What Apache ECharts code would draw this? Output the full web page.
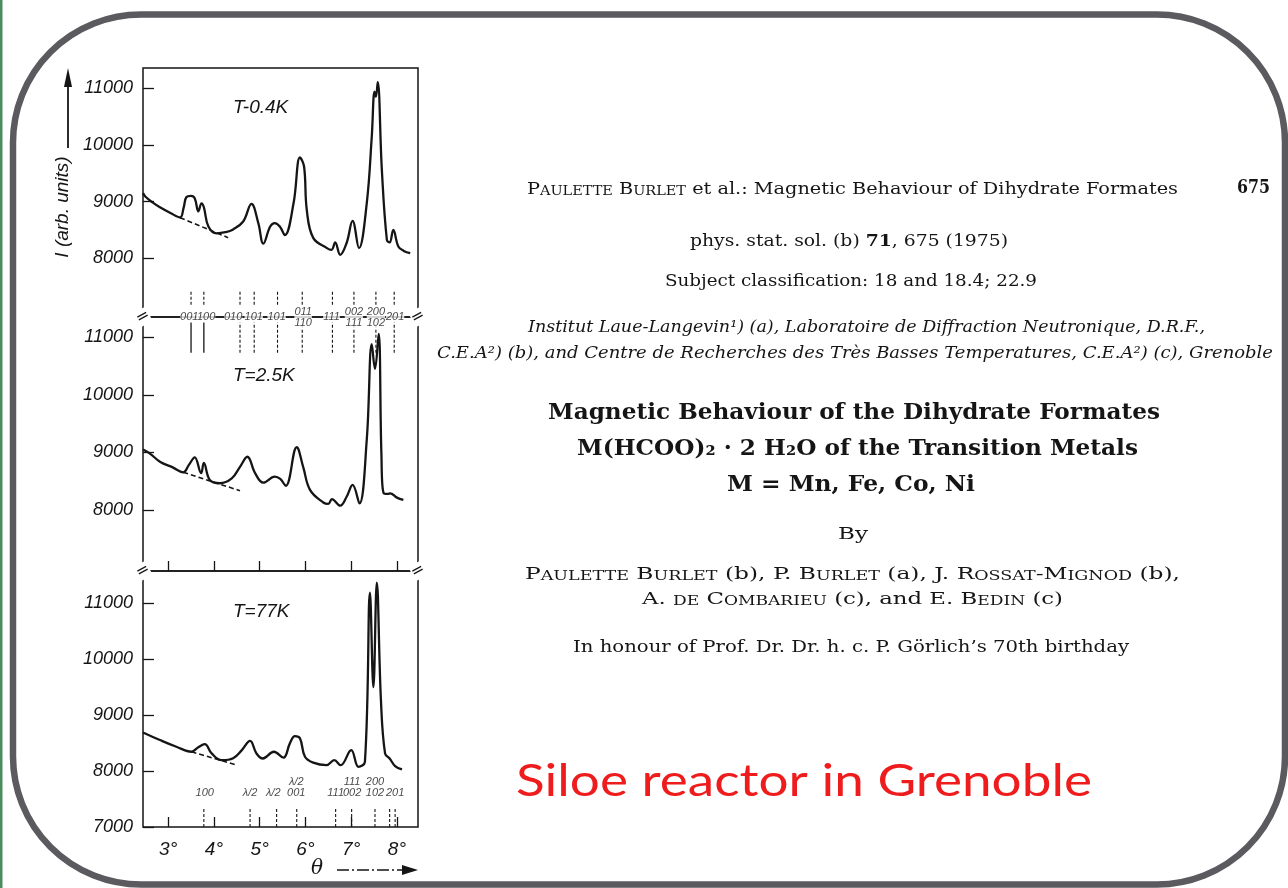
<!DOCTYPE html>
<html>
<head>
<meta charset="utf-8">
<script src="https://cdn.jsdelivr.net/npm/echarts@6/dist/echarts.min.js"></script>
<style>
html,body{margin:0;padding:0;background:#fff;}
#main{width:1288px;height:888px;}
</style>
</head>
<body>
<div id="main"></div>
<script>
// scan of the three diffraction patterns, theta in degrees, I in arb. units
var curve04 = [[2.45,9150],[2.5,9090],[2.65,8990],[2.82,8900],[3.05,8800],[3.26,8720],[3.34,8900],[3.40,9080],[3.50,9100],[3.58,9060],[3.66,8830],[3.73,8970],[3.78,8900],[3.88,8560],[4.06,8440],[4.25,8460],[4.42,8510],[4.64,8650],[4.82,8960],[4.97,8620],[5.08,8260],[5.23,8560],[5.33,8620],[5.44,8560],[5.55,8410],[5.74,8970],[5.88,9780],[5.97,9620],[6.03,8850],[6.17,8360],[6.47,8180],[6.57,8150],[6.65,8280],[6.76,8060],[6.90,8270],[7.03,8660],[7.17,8180],[7.34,8970],[7.45,10150],[7.51,10940],[7.54,10850],[7.58,11110],[7.67,9560],[7.78,8320],[7.84,8280],[7.92,8500],[8.03,8210],[8.15,8130],[8.29,8090]];
var curve25 = [[2.45,9050],[2.6,8980],[2.82,8840],[3.1,8740],[3.33,8655],[3.45,8780],[3.58,8915],[3.72,8640],[3.78,8820],[3.91,8520],[4.13,8465],[4.39,8550],[4.57,8750],[4.73,8925],[4.90,8640],[5.08,8475],[5.33,8580],[5.45,8540],[5.57,8420],[5.81,9090],[5.95,8750],[6.10,8350],[6.39,8130],[6.50,8105],[6.58,8190],[6.76,8075],[6.90,8230],[7.03,8435],[7.18,8115],[7.34,9220],[7.45,10880],[7.52,10450],[7.60,11060],[7.66,8985],[7.71,8290],[7.80,8280],[7.85,8290],[8.00,8215],[8.14,8175]];
var curve77 = [[2.45,8690],[2.82,8555],[3.18,8435],[3.51,8345],[3.65,8420],[3.80,8480],[3.95,8315],[4.17,8195],[4.42,8230],[4.61,8375],[4.79,8540],[4.93,8315],[5.07,8225],[5.31,8345],[5.52,8240],[5.66,8495],[5.77,8625],[5.88,8585],[5.99,8255],[6.17,8150],[6.46,8105],[6.63,8195],[6.77,8105],[7.00,8375],[7.16,8075],[7.30,8165],[7.41,11190],[7.485,9500],[7.56,11370],[7.65,9270],[7.74,8315],[7.84,8225],[7.96,8090],[8.11,8030]];

// dashed background under the first peaks
var base04 = [[3.26,8717],[4.31,8364]];
var base25 = [[3.33,8655],[4.57,8335]];
var base77 = [[3.51,8345],[4.50,8107]];

var panelLabels = ['T-0.4K','T=2.5K','T=77K'];
var degTicks = [3,4,5,6,7,8];
var yTicks12 = [8000,9000,10000,11000];
var yTicks3 = [7000,8000,9000,10000,11000];

// reflections (between top and middle panel)
var reflTheta = [3.50,3.78,4.57,4.88,5.39,5.93,6.59,7.06,7.54,7.94];
var reflLabelTheta = [3.46,3.83,4.42,4.87,5.37,5.95,6.57,7.06,7.54,7.96];
var reflLabel = ['001','100','010','101','101','011\n110','111','002\n111','200\n102','201'];
// reflections under the 77K pattern
var lowTheta = [3.80,4.79,5.30,5.80,6.66,7.02,7.52,7.96];
var lowLabel = ['100','λ/2','λ/2','λ/2\n001','111','111\n002','200\n102','201'];
var lowTicks = [3.78,4.79,5.37,5.81,6.66,7.01,7.52,7.84,7.96];

var INK = '#151515';
var SANS = '"Liberation Sans", Arimo, sans-serif';
var SERIF = '"DejaVu Serif", "Liberation Serif", serif';

var myChart = echarts.init(document.getElementById('main'));

var ranges = [[6964,11358],[6940,11353],[7000,11577]];
var grids = [
    {left:143, top:68, width:275, height:249},
    {left:143, top:317, width:275, height:254},
    {left:143, top:571, width:275, height:256}
];
grids.forEach(function(g){ g.show = true; g.borderColor = INK; g.borderWidth = 1.5; g.backgroundColor = 'transparent'; });

var xAxes = [0,1,2].map(function(i){
    return {
        type:'value', gridIndex:i, min:2.45, max:8.46,
        axisLine:{show:false}, splitLine:{show:false},
        axisTick:{show:i>0, inside:true, length:10, customValues:degTicks, lineStyle:{color:INK,width:1.3}},
        axisLabel:{show:i==2, customValues:degTicks, formatter:'{value}°', margin:13,
            color:INK, fontSize:19, fontStyle:'italic', fontFamily:SANS}
    };
});
var yAxes = [0,1,2].map(function(i){
    var t = i==2 ? yTicks3 : yTicks12;
    return {
        type:'value', gridIndex:i, min:ranges[i][0], max:ranges[i][1],
        axisLine:{show:false}, splitLine:{show:false},
        axisTick:{show:true, inside:true, length:11, customValues:t, lineStyle:{color:INK,width:1.3}},
        axisLabel:{customValues:t, margin:10, color:INK, fontSize:18, fontStyle:'italic', fontFamily:SANS,
            formatter:function(v){ return String(v); }}
    };
});

function curve(data, i){
    return {type:'line', xAxisIndex:i, yAxisIndex:i, data:data, smooth:0.4,
        showSymbol:false, silent:true, lineStyle:{color:INK, width:2.3}, z:3};
}
function baseline(data, i){
    return {type:'line', xAxisIndex:i, yAxisIndex:i, data:data, showSymbol:false, silent:true,
        lineStyle:{color:INK, width:1.6, type:[5,3]}, z:3};
}
// short vertical marks in value space
function ticks(thetas, i, lo, hi, solidCount){
    return {
        type:'custom', xAxisIndex:i, yAxisIndex:i, silent:true, z:4,
        data:thetas.map(function(t){ return [t]; }),
        renderItem:function(params, api){
            var a = api.coord([api.value(0), lo]);
            var b = api.coord([api.value(0), hi]);
            var solid = params.dataIndex < solidCount;
            return {type:'line', shape:{x1:a[0],y1:a[1],x2:b[0],y2:b[1]},
                style:{stroke:INK, lineWidth:solid?1.3:1.1, lineDash:solid?null:[3,2]}};
        }
    };
}
function labels(thetas, names, i, y, pos){
    return {
        type:'scatter', xAxisIndex:i, yAxisIndex:i, silent:true, symbolSize:0, z:5,
        data:thetas.map(function(t,k){ return {value:[t,y], name:names[k]}; }),
        label:{show:true, position:pos, distance:1, formatter:'{b}', color:INK,
            fontSize:11, lineHeight:11, fontStyle:'italic', fontFamily:SANS,
            backgroundColor:pos=='inside'?'#fff':'transparent', padding:0}
    };
}

// ---- paper text on the right ----
var meas = document.createElement('canvas').getContext('2d');
function fontStr(s){ return (s.fontStyle||'normal')+' '+(s.fontWeight||'normal')+' '+s.fontSize+'px '+s.fontFamily; }
function parseParts(str){
    var out = [];
    str.split(/(\^[A-Za-zÖ]+|\*[^*]+\*)/).forEach(function(tok){
        if(!tok) return;
        if(tok[0]=='^'){
            var w = tok.slice(1), cur = null, buf = '';
            for(var c=0;c<w.length;c++){
                var ch = w[c];
                var k = (ch==ch.toUpperCase()) ? 'n' : 's';
                if(k!==cur && buf){ out.push({t:buf,k:cur}); buf=''; }
                cur = k; buf += ch.toUpperCase();
            }
            if(buf) out.push({t:buf,k:cur});
        }else if(tok[0]=='*'){
            out.push({t:tok.slice(1,-1),k:'b'});
        }else{
            out.push({t:tok,k:'n'});
        }
    });
    return out;
}
function textLine(L){
    var fam = L.family || SERIF;
    var base = {fontSize:L.size, fontStyle:L.style||'normal', fontWeight:L.weight||'normal', fontFamily:fam, verticalAlign:'bottom'};
    var rich = {
        n: base,
        s: Object.assign({}, base, {fontSize:Math.round(L.size*0.78)}),
        b: Object.assign({}, base, {fontWeight:'bold'})
    };
    var parts = parseParts(L.text);
    var w = 0;
    parts.forEach(function(p){ meas.font = fontStr(rich[p.k]); w += meas.measureText(p.t).width; });
    return {
        type:'text', x:L.x0, y:L.y, scaleX:(L.x1-L.x0)/w, silent:true, z:10,
        style:{
            text:parts.map(function(p){ return '{'+p.k+'|'+p.t+'}'; }).join(''),
            rich:rich, fill:L.color||INK, align:'left', verticalAlign:'middle',
            fontSize:L.size, fontFamily:fam
        }
    };
}
var paperLines = [
    {text:'^Paulette ^Burlet et al.: Magnetic Behaviour of Dihydrate Formates', x0:527, x1:1178, y:190, size:16},
    {text:'675', x0:1237, x1:1270, y:188, size:19, weight:'bold'},
    {text:'phys. stat. sol. (b) *71*, 675 (1975)', x0:690, x1:1008, y:242, size:16},
    {text:'Subject classification: 18 and 18.4; 22.9', x0:665, x1:1037, y:282, size:16},
    {text:'Institut Laue-Langevin¹) (a), Laboratoire de Diffraction Neutronique, D.R.F.,', x0:528, x1:1205, y:328, size:16, style:'italic'},
    {text:'C.E.A²) (b), and Centre de Recherches des Très Basses Temperatures, C.E.A²) (c), Grenoble', x0:437, x1:1273, y:354, size:16, style:'italic'},
    {text:'Magnetic Behaviour of the Dihydrate Formates', x0:548, x1:1160, y:413, size:22, weight:'bold'},
    {text:'M(HCOO)₂ · 2 H₂O of the Transition Metals', x0:577, x1:1138, y:449, size:22, weight:'bold'},
    {text:'M = Mn, Fe, Co, Ni', x0:727, x1:975, y:485, size:22, weight:'bold'},
    {text:'By', x0:838, x1:868, y:535, size:17},
    {text:'^Paulette ^Burlet (b), P. ^Burlet (a), J. ^Rossat-^Mignod (b),', x0:525, x1:1180, y:575, size:16},
    {text:'A. ^de ^Combarieu (c), and E. ^Bedin (c)', x0:642, x1:1063, y:600, size:16},
    {text:'In honour of Prof. Dr. Dr. h. c. P. ^Görlich’s 70th birthday', x0:573, x1:1129, y:648, size:16},
    {text:'Siloe reactor in Grenoble', x0:516, x1:1092, y:782, size:44, family:'Lato, "Open Sans", sans-serif', color:'#ee1c1c'}
];

var breakMarks = [[143,317],[418,317],[143,571],[418,571]].map(function(p){
    return {type:'text', x:p[0], y:p[1], rotation:0.5, z:11, silent:true,
        style:{text:'=', fontSize:16, fontFamily:'DejaVu Sans', fill:INK, align:'center', verticalAlign:'middle', backgroundColor:'#fff'}};
});

var graphic = [
    {type:'rect', left:0, top:0, shape:{width:2.5, height:888}, style:{fill:'#4e8a5f'}, silent:true},
    {type:'rect', shape:{x:13, y:14.5, width:1272, height:870, r:128}, style:{fill:'none', stroke:'#5a5a5f', lineWidth:6.5}, silent:true, z:-1},
    {type:'line', shape:{x1:68, y1:148, x2:68, y2:84}, style:{stroke:INK, lineWidth:1.8}, silent:true},
    {type:'polygon', shape:{points:[[68,68],[64,87],[72,87]]}, style:{fill:INK}, silent:true},
    {type:'text', x:63, y:207, rotation:Math.PI/2, silent:true,
        style:{text:'I (arb. units)', fontSize:19, fontStyle:'italic', fontFamily:SANS, fill:INK, align:'center', verticalAlign:'middle'}},
    {type:'text', x:317, y:869, silent:true,
        style:{text:'θ', fontSize:20, fontStyle:'italic', fontFamily:'DejaVu Serif', fill:INK, align:'center', verticalAlign:'middle'}},
    {type:'line', shape:{x1:337, y1:870, x2:405, y2:870}, style:{stroke:INK, lineWidth:1.4, lineDash:[12,3,2,3]}, silent:true},
    {type:'polygon', shape:{points:[[418,870],[402,865],[402,875]]}, style:{fill:INK}, silent:true}
].concat(breakMarks).concat(paperLines.map(textLine));

myChart.setOption({
    backgroundColor:'#fff',
    animation:false,
    title:panelLabels.map(function(t,i){
        return {text:t, left:228, top:[93,361,597][i],
            textStyle:{color:INK, fontSize:19, fontWeight:'normal', fontStyle:'italic', fontFamily:SANS}};
    }),
    grid:grids,
    xAxis:xAxes,
    yAxis:yAxes,
    series:[
        curve(curve04,0), curve(curve25,1), curve(curve77,2),
        baseline(base04,0), baseline(base25,1), baseline(base77,2),
        ticks(reflTheta,0,7180,7420,0),
        ticks(reflTheta,1,10730,11260,2),
        labels(reflLabelTheta,reflLabel,0,ranges[0][0],'inside'),
        ticks(lowTicks,2,7000,7330,0),
        labels(lowTheta,lowLabel,2,7500,'top')
    ],
    graphic:graphic
});
</script>
</body>
</html>
